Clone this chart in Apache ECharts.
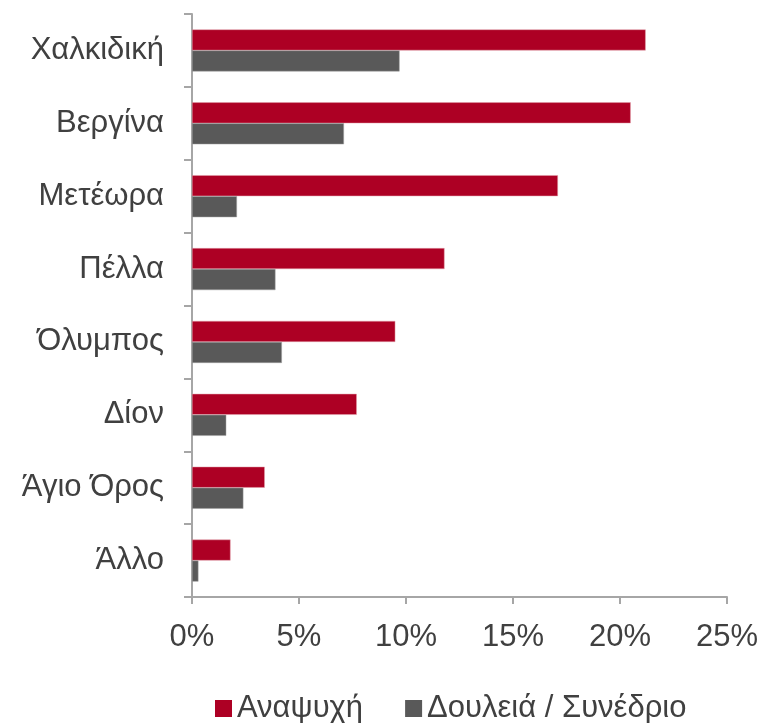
<!DOCTYPE html>
<html>
<head>
<meta charset="utf-8">
<script src="https://cdn.jsdelivr.net/npm/echarts@6/dist/echarts.min.js"></script>
<style>
  html, body { margin: 0; padding: 0; background: #fff; }
  #main { width: 765px; height: 723px; }
</style>
</head>
<body>
<div id="main"></div>
<script>
var categories = ["Χαλκιδική", "Βεργίνα", "Μετέωρα", "Πέλλα", "Όλυμπος", "Δίον", "Άγιο Όρος", "Άλλο"];
var leisure = [21.2, 20.5, 17.1, 11.8, 9.5, 7.7, 3.4, 1.8];
var business = [9.7, 7.1, 2.1, 3.9, 4.2, 1.6, 2.4, 0.3];
var seriesNames = ["Αναψυχή", "Δουλειά / Συνέδριο"];

var myChart = echarts.init(document.getElementById("main"));
var font = "Liberation Sans, Arial, sans-serif";

myChart.setOption({
  animation: false,
  textStyle: { fontFamily: font },
  grid: { left: 192, right: 38, top: 14, bottom: 126, containLabel: false },
  legend: {
    top: 688,
    left: 210,
    itemWidth: 17,
    itemHeight: 17,
    itemGap: 42,
    icon: "rect",
    itemStyle: { borderWidth: 0 },
    textStyle: { fontSize: 31, color: "#404040", fontFamily: font },
    data: seriesNames
  },
  xAxis: {
    type: "value",
    min: 0,
    max: 25,
    interval: 5,
    axisLine: { show: true, lineStyle: { color: "#a6a6a6", width: 2 } },
    axisTick: { show: true, length: 7, lineStyle: { color: "#a6a6a6", width: 2 } },
    splitLine: { show: false },
    axisLabel: { formatter: "{value}%", fontSize: 31, color: "#404040", margin: 25, fontFamily: font }
  },
  yAxis: {
    type: "category",
    inverse: true,
    data: categories,
    axisLine: { lineStyle: { color: "#a6a6a6", width: 2 } },
    axisTick: { show: true, length: 8, lineStyle: { color: "#a6a6a6", width: 2 } },
    axisLabel: { fontSize: 31, color: "#404040", margin: 28, fontFamily: font }
  },
  series: [
    {
      name: seriesNames[0],
      type: "bar",
      data: leisure,
      barWidth: 21,
      barGap: "0%",
      itemStyle: { color: "#ad0024", borderColor: "#e3a0ad", borderWidth: 0.5 }
    },
    {
      name: seriesNames[1],
      type: "bar",
      data: business,
      barWidth: 21,
      barGap: "0%",
      itemStyle: { color: "#595959", borderColor: "#a0a0a0", borderWidth: 0.5 }
    }
  ]
});
</script>
</body>
</html>
